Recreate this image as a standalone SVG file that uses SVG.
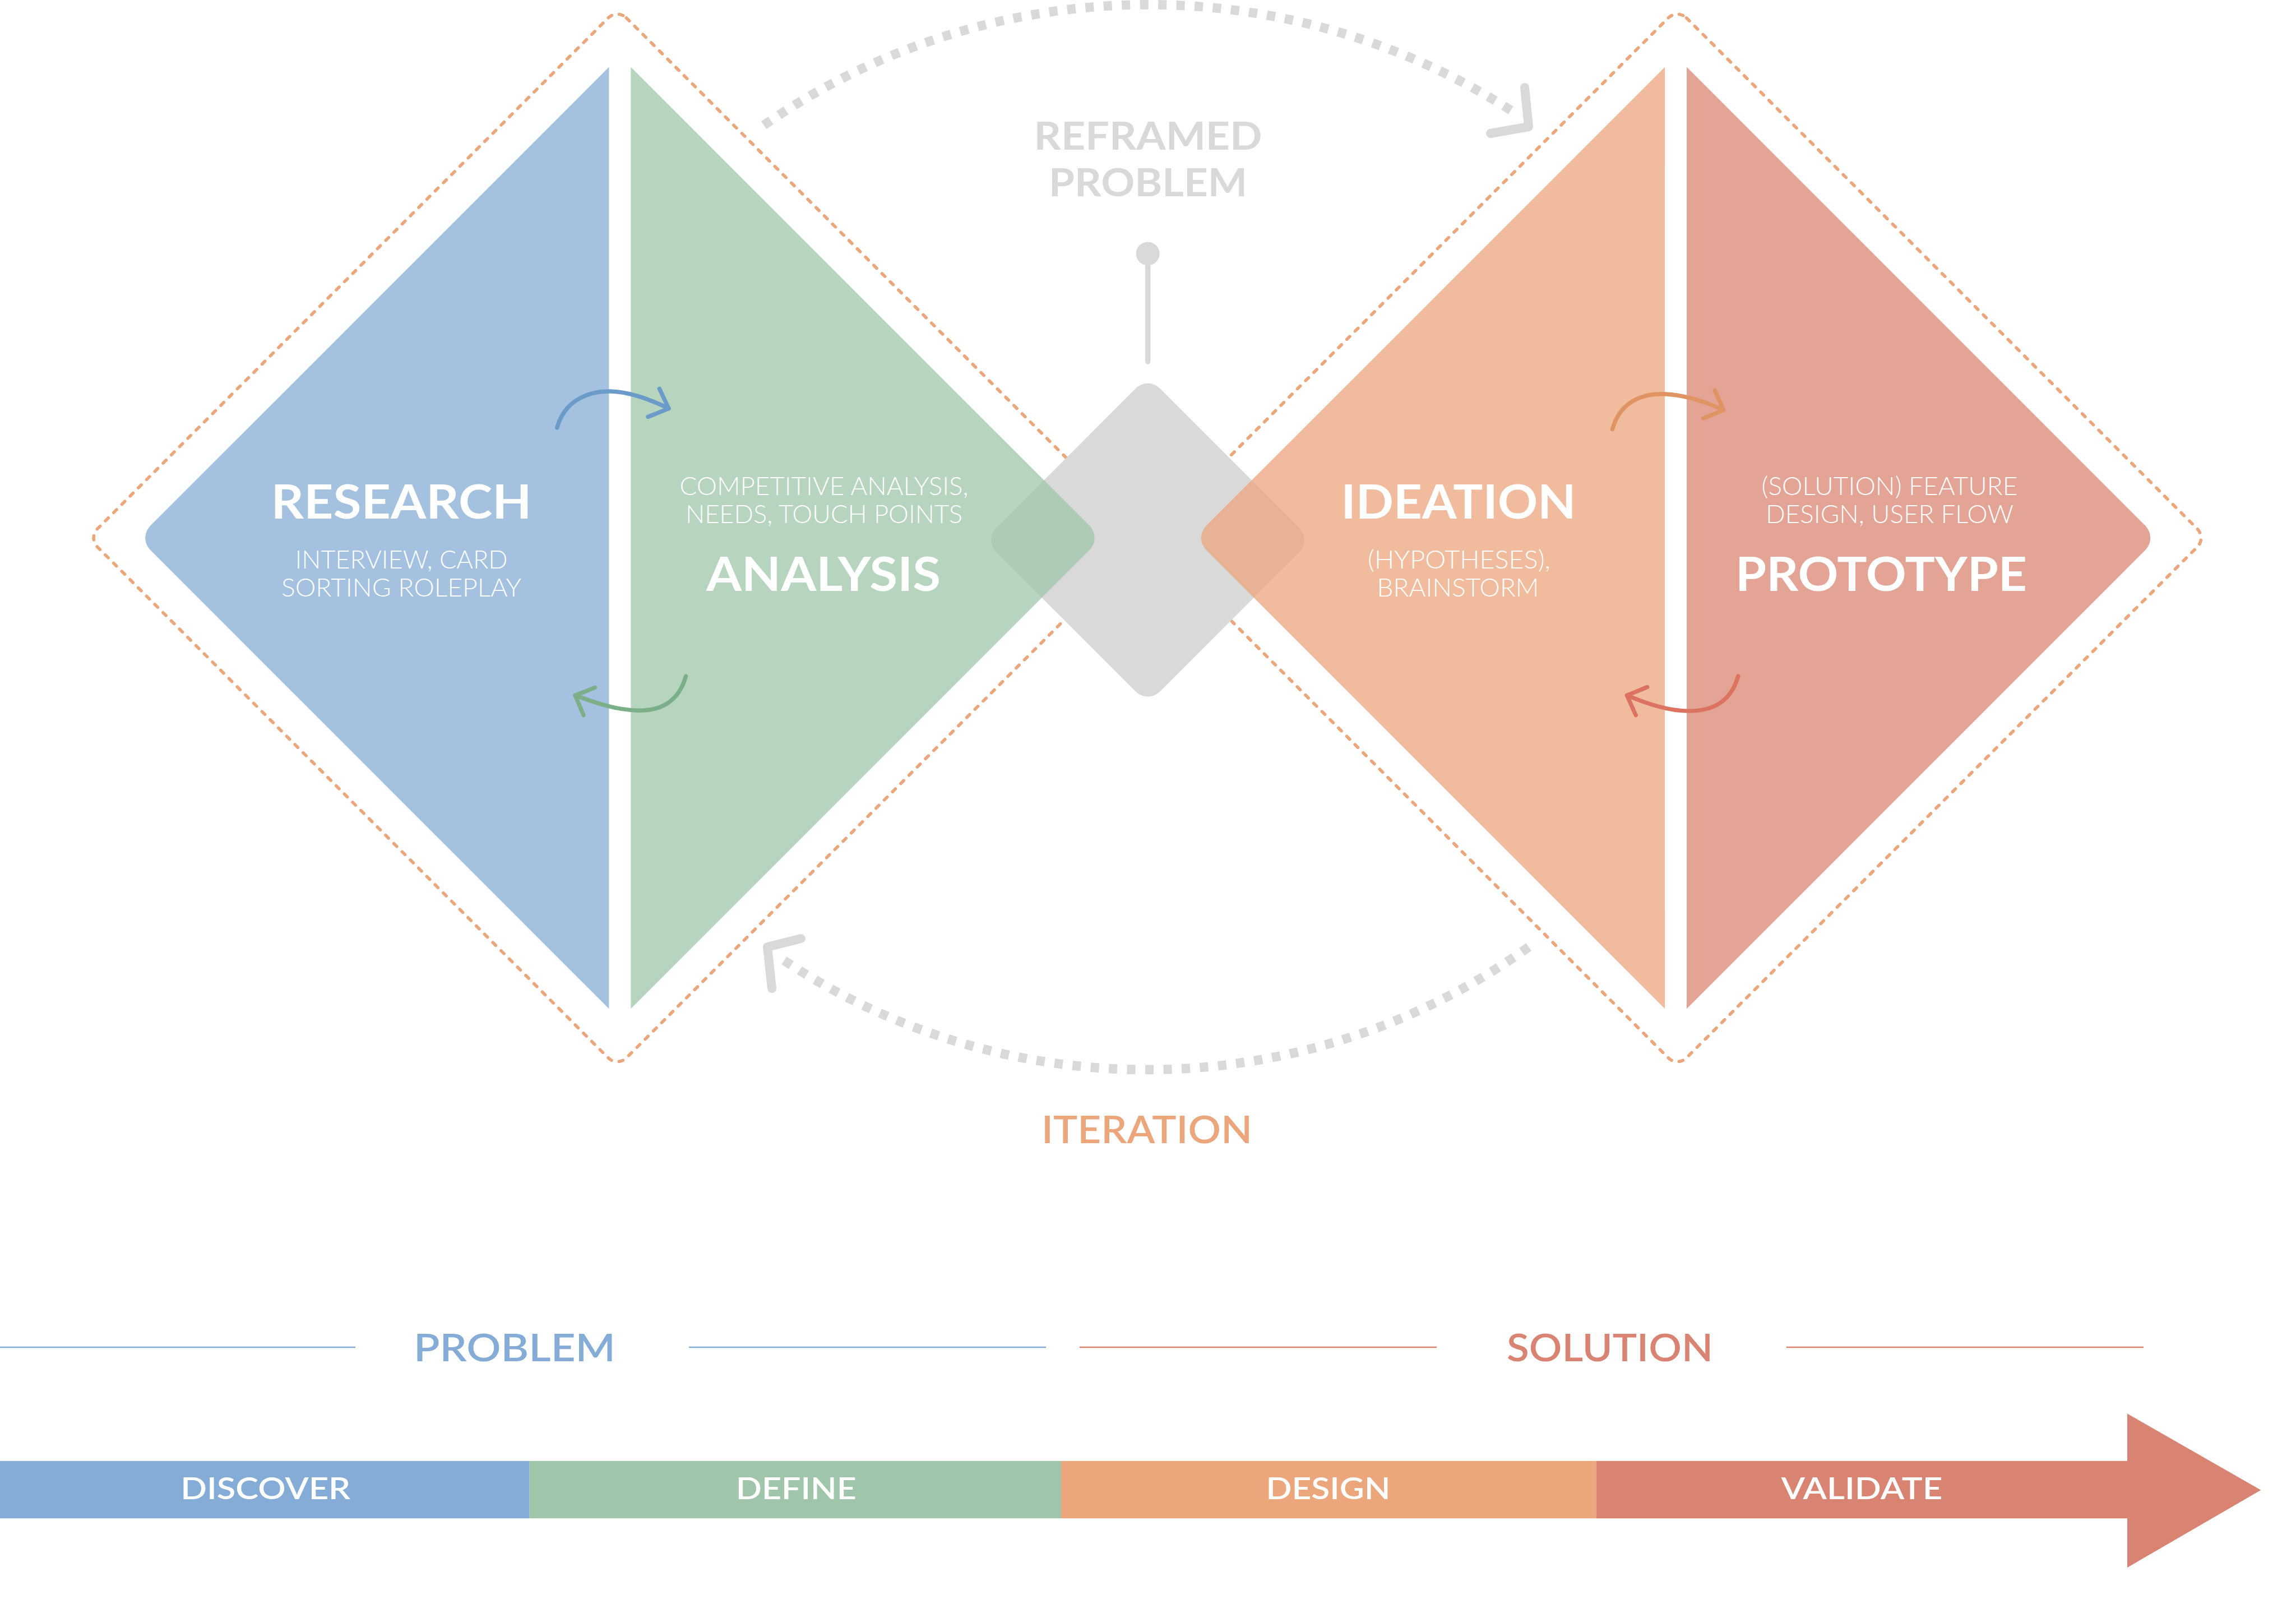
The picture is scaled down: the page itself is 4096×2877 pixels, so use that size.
<svg xmlns="http://www.w3.org/2000/svg" width="4096" height="2877" viewBox="0 0 4096 2877">
<defs>
<style>
.dash{fill:none;stroke:#eba67c;stroke-width:5.6;stroke-dasharray:7.4 13.4;stroke-linecap:round}
.dots{fill:none;stroke:#d9d9d9;stroke-width:16.7;stroke-dasharray:15 17.5}
.chev{fill:none;stroke:#d9d9d9;stroke-width:16;stroke-linecap:round;stroke-linejoin:round}
.tri{fill-opacity:0.75}
.arr{fill:none;stroke-width:7.4;stroke-linecap:round;stroke-linejoin:round}
.big{font-family:Lato,"Liberation Sans",Arial,sans-serif;font-weight:700;font-size:84px;fill:#fff;text-anchor:middle}
.thin{font-family:Lato,"Liberation Sans",Arial,sans-serif;font-weight:300;font-size:46px;fill:#fff;text-anchor:middle}
.gray{font-family:Lato,"Liberation Sans",Arial,sans-serif;font-weight:700;font-size:69px;fill:#d9d9d9;text-anchor:middle}
.head{font-family:Lato,"Liberation Sans",Arial,sans-serif;font-weight:600;font-size:67px;text-anchor:middle}
.bar{font-family:Lato,"Liberation Sans",Arial,sans-serif;font-weight:600;font-size:53px;fill:#fff;text-anchor:middle}
</style>
</defs>
<rect width="4096" height="2877" fill="#fff"/>

<g id="outline-problem">
<rect class="dash" x="-667.3" y="-667.3" width="1334.6" height="1334.6" rx="23" transform="translate(1101.3,959.4) rotate(45)"/>
</g>
<g id="outline-solution">
<rect class="dash" x="-667.3" y="-667.3" width="1334.6" height="1334.6" rx="23" transform="translate(2992.4,959.4) rotate(45)"/>
</g>

<g id="reframed-problem">
<path d="M2026.1,692.8 A30.6,30.6 0 0 1 2069.3,692.8 L2318.1,941.6 A30.6,30.6 0 0 1 2318.1,984.8 L2069.3,1233.6 A30.6,30.6 0 0 1 2026.1,1233.6 L1777.3,984.8 A30.6,30.6 0 0 1 1777.3,941.6 Z" fill="#d9d9d9"/>
<line x1="2047.7" y1="452" x2="2047.7" y2="645" stroke="#d9d9d9" stroke-width="9.3" stroke-linecap="round"/>
<circle cx="2047.7" cy="452.4" r="21" fill="#d9d9d9"/>
<text class="gray" x="2048" y="267" textLength="407" lengthAdjust="spacingAndGlyphs">REFRAMED</text>
<text class="gray" x="2048" y="350" textLength="354" lengthAdjust="spacingAndGlyphs">PROBLEM</text>
</g>

<g id="research">
<path class="tri" fill="#85acd6" d="M1086.4,119.6 L268.1,937.8 A30.6,30.6 0 0 0 268.1,981 L1086.4,1799.3 Z"/>
<text class="big" x="716" y="925" textLength="465" lengthAdjust="spacingAndGlyphs">RESEARCH</text>
<text class="thin" x="716" y="1014" textLength="379" lengthAdjust="spacingAndGlyphs">INTERVIEW, CARD</text>
<text class="thin" x="716" y="1064" textLength="428" lengthAdjust="spacingAndGlyphs">SORTING ROLEPLAY</text>
</g>

<g id="analysis">
<path class="tri" fill="#9fc5aa" d="M1125.4,119.6 L1943.7,937.8 A30.6,30.6 0 0 1 1943.7,981 L1125.4,1799.3 Z"/>
<text class="thin" x="1470" y="883" textLength="515" lengthAdjust="spacingAndGlyphs">COMPETITIVE ANALYSIS,</text>
<text class="thin" x="1470" y="933" textLength="494" lengthAdjust="spacingAndGlyphs">NEEDS, TOUCH POINTS</text>
<text class="big" x="1469" y="1054" textLength="418" lengthAdjust="spacingAndGlyphs">ANALYSIS</text>
</g>

<g id="ideation">
<path class="tri" fill="#eba67c" d="M2970.1,119.6 L2151.8,937.8 A30.6,30.6 0 0 0 2151.8,981 L2970.1,1799.3 Z"/>
<text class="big" x="2602" y="925" textLength="419" lengthAdjust="spacingAndGlyphs">IDEATION</text>
<text class="thin" x="2603" y="1014" textLength="326" lengthAdjust="spacingAndGlyphs">(HYPOTHESES),</text>
<text class="thin" x="2601" y="1064" textLength="289" lengthAdjust="spacingAndGlyphs">BRAINSTORM</text>
</g>

<g id="prototype">
<path class="tri" fill="#d98472" d="M3009,119.6 L3827.3,937.8 A30.6,30.6 0 0 1 3827.3,981 L3009,1799.3 Z"/>
<text class="thin" x="3371" y="883" textLength="457" lengthAdjust="spacingAndGlyphs">(SOLUTION) FEATURE</text>
<text class="thin" x="3371" y="933" textLength="442" lengthAdjust="spacingAndGlyphs">DESIGN, USER FLOW</text>
<text class="big" x="3356" y="1054" textLength="520" lengthAdjust="spacingAndGlyphs">PROTOTYPE</text>
</g>

<g id="connectors">
<path class="dots" d="M1362.7,223.4 A1202.5,1202.5 0 0 1 2705,203"/>
<polyline class="chev" points="2720,156 2727,226 2659,238"/>
<path class="dots" d="M2727.2,1689 A1171,1171 0 0 1 1385,1703.8"/>
<polyline class="chev" points="1429,1674 1369,1689 1377,1763"/>
<g stroke="#6b9bc9" class="arr">
<path d="M993.7,762.9 C1008.6,709.2 1056.8,697.1 1089.2,698 C1121.7,698.9 1158.8,711.9 1193,728.6"/>
<polyline points="1176.4,693.4 1193,728.6 1156,743.5"/>
</g>
<g stroke="#7aaf88" class="arr">
<path d="M1223.6,1206 C1209.7,1256.1 1172.7,1268.1 1137.4,1267.2 C1101.1,1266.3 1066,1255.2 1026.2,1240.3"/>
<polyline points="1061.4,1226.4 1026.2,1240.3 1041,1275.6"/>
</g>
<g stroke="#e09363" class="arr">
<path d="M2876.5,765.7 C2890.4,713.8 2934,702.7 2961.8,702.7 C2998.8,702.7 3040.6,715.6 3074.9,731.4"/>
<polyline points="3059.1,696.2 3074.9,731.4 3038.7,746.2"/>
</g>
<g stroke="#dc7361" class="arr">
<path d="M3100.8,1206 C3086.9,1256.1 3049.8,1268.1 3012.8,1268.1 C2975.7,1268.1 2938.6,1255.1 2902.4,1240.3"/>
<polyline points="2938.6,1225.5 2902.4,1240.3 2918.2,1275.6"/>
</g>
</g>

<g id="iteration">
<text class="head" x="2046" y="2039" fill="#eba67c" textLength="376" lengthAdjust="spacingAndGlyphs">ITERATION</text>
</g>

<g id="problem-header">
<line x1="0" y1="2403" x2="634" y2="2403" stroke="#85acd6" stroke-width="2.6"/>
<line x1="1229" y1="2403" x2="1866" y2="2403" stroke="#85acd6" stroke-width="2.6"/>
<text class="head" x="918" y="2428" fill="#85acd6" textLength="360" lengthAdjust="spacingAndGlyphs">PROBLEM</text>
</g>
<g id="solution-header">
<line x1="1926" y1="2403" x2="2563" y2="2403" stroke="#d98472" stroke-width="2.6"/>
<line x1="3187" y1="2403" x2="3824" y2="2403" stroke="#d98472" stroke-width="2.6"/>
<text class="head" x="2872" y="2428" fill="#d98472" textLength="368" lengthAdjust="spacingAndGlyphs">SOLUTION</text>
</g>

<g id="discover">
<rect x="0" y="2605.8" width="944.6" height="102.4" fill="#85acd6"/>
<text class="bar" x="473.7" y="2674.4" textLength="303" lengthAdjust="spacingAndGlyphs">DISCOVER</text>
</g>
<g id="define">
<rect x="944.6" y="2605.8" width="948.4" height="102.4" fill="#9fc5aa"/>
<text class="bar" x="1420.2" y="2674.4" textLength="215" lengthAdjust="spacingAndGlyphs">DEFINE</text>
</g>
<g id="design">
<rect x="1893" y="2605.8" width="954.7" height="102.4" fill="#eba67c"/>
<text class="bar" x="2369.4" y="2674.4" textLength="222" lengthAdjust="spacingAndGlyphs">DESIGN</text>
</g>
<g id="validate">
<polygon points="2847.7,2605.8 3795,2605.8 3795,2521.4 4033.4,2657.7 3795,2796 3795,2708.2 2847.7,2708.2" fill="#d98472"/>
<text class="bar" x="3321.4" y="2674.4" textLength="288" lengthAdjust="spacingAndGlyphs">VALIDATE</text>
</g>
</svg>
